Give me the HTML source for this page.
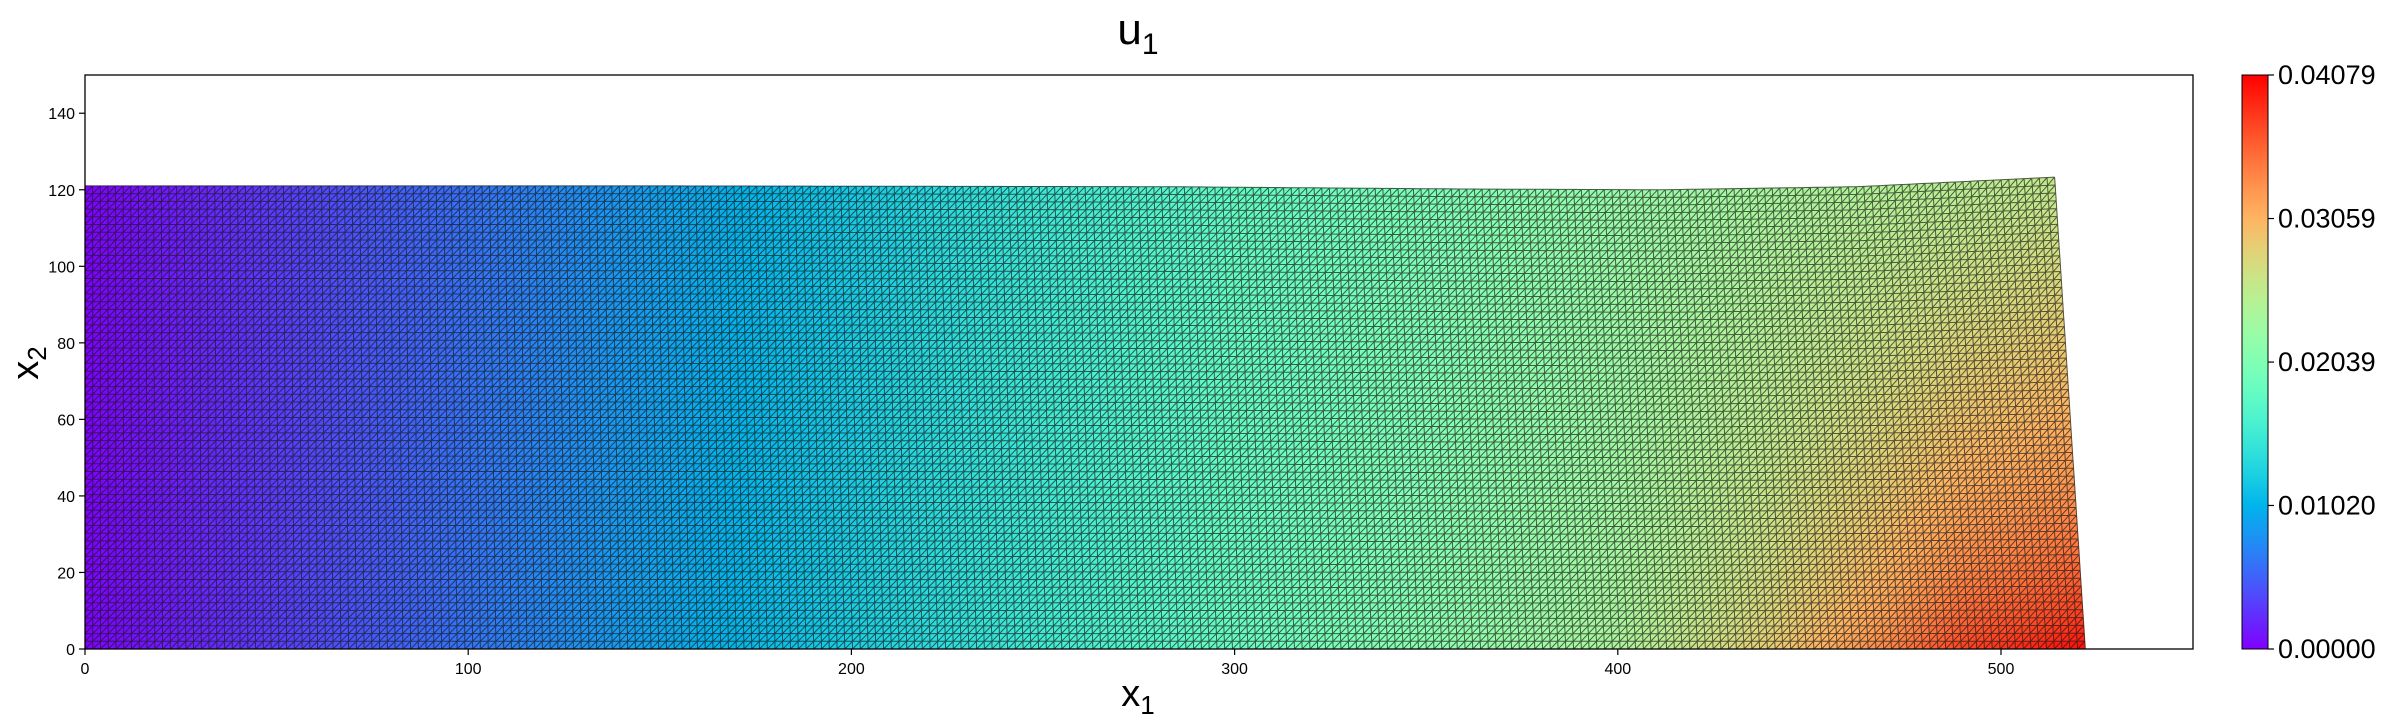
<!DOCTYPE html>
<html><head><meta charset="utf-8"><style>
html,body{margin:0;padding:0;background:#fff;}
svg text{font-family:"Liberation Sans","DejaVu Sans",sans-serif;}
</style></head><body>
<svg id="fig" width="2390" height="722" xmlns="http://www.w3.org/2000/svg">
<defs>
<linearGradient id="cbg" x1="0" y1="1" x2="0" y2="0"></linearGradient>
</defs>
<text x="1138" y="44" font-size="44" text-anchor="middle">u<tspan font-size="30" dy="10">1</tspan></text>
<g id="mesh"></g>
<rect x="85" y="75" width="2108" height="574" fill="none" stroke="#000" stroke-width="1.3"/>
<g id="xticks"></g>
<g id="yticks"></g>
<text x="1138" y="706" font-size="38" text-anchor="middle">x<tspan font-size="26" dy="8">1</tspan></text>
<text transform="translate(38,363) rotate(-90)" font-size="38" text-anchor="middle">x<tspan font-size="26" dy="8">2</tspan></text>
<rect x="2242" y="75" width="26" height="574" fill="url(#cbg)" stroke="#000" stroke-width="1"/>
<g id="cbticks"></g>
</svg>
<script>
const xTicks=[0,100,200,300,400,500];
const yTicks=[0,20,40,60,80,100,120,140];
const cbTicks=["0.00000","0.01020","0.02039","0.03059","0.04079"];
const vMin=0, vMax=0.04079;
const topS=[0,0.3,0.55,0.7,0.8,0.9,1.0];
const topY=[121,121,120.8,120.2,120,120.8,123.3];
const rightX=[522,514];
const valX=[0,100,200,300,400,440,470,490,522];
const valBot=[0,0.0062,0.0122,0.0185,0.0240,0.029,0.034,0.038,0.0408];
const valTop=[0,0.0060,0.0118,0.0180,0.0222,0.0236,0.0245,0.025,0.026];

const NS="http://www.w3.org/2000/svg";
const X0=85,Y0=649,PX=3.832,PY=3.827;
const sx=v=>X0+v*PX, sy=v=>Y0-v*PY;
function interp(xs,ys,x){if(x<=xs[0])return ys[0];for(let i=1;i<xs.length;i++){if(x<=xs[i]){const t=(x-xs[i-1])/(xs[i]-xs[i-1]);return ys[i-1]+t*(ys[i]-ys[i-1]);}}return ys[ys.length-1];}
function cmap(v){let x=Math.max(0,Math.min(1,(v-vMin)/(vMax-vMin)));
 let r=Math.abs(2*x-0.5),g=Math.sin(Math.PI*x),b=Math.cos(Math.PI*x/2);
 const c=z=>Math.round(255*Math.max(0,Math.min(1,z)));return `rgb(${c(r)},${c(g)},${c(b)})`;}
function el(t,a,p){const e=document.createElementNS(NS,t);for(const k in a)e.setAttribute(k,a[k]);p.appendChild(e);return e;}

const mesh=document.getElementById('mesh');
const nx=258, ny=60;
function node(i,j){const s=i/nx,t=j/ny;const L=rightX[0]+(rightX[1]-rightX[0])*t;const T=interp(topS,topY,s);return [s*L,t*T];}
const nodes=[];for(let j=0;j<=ny;j++){nodes.push([]);for(let i=0;i<=nx;i++){const p=node(i,j);nodes[j].push([sx(p[0]),sy(p[1]),p[0],p[1]]);}}
const fills=el('g',{},mesh);


let lines="";
for(let j=0;j<ny;j++)for(let i=0;i<nx;i++){
 const a=nodes[j][i],b=nodes[j][i+1],c=nodes[j+1][i+1],d=nodes[j+1][i];
 const cx=(a[2]+c[2])/2, cy=(a[3]+c[3])/2;const t=Math.pow(Math.min(1,cy/121),0.6);
 const v=interp(valX,valBot,cx)*(1-t)+interp(valX,valTop,cx)*t;
 const p=el('polygon',{points:`${a[0]},${a[1]} ${b[0]},${b[1]} ${c[0]},${c[1]} ${d[0]},${d[1]}`,fill:cmap(v),stroke:cmap(v),'stroke-width':0.6},fills);
 
 
 lines+=`M${a[0].toFixed(1)},${a[1].toFixed(1)}L${c[0].toFixed(1)},${c[1].toFixed(1)}`;
}
for(let j=0;j<=ny;j++){lines+="M"+nodes[j].map(n=>n[0].toFixed(1)+","+n[1].toFixed(1)).join("L");}
for(let i=0;i<=nx;i++){let s="";for(let j=0;j<=ny;j++){s+=(j?"L":"M")+nodes[j][i][0].toFixed(1)+","+nodes[j][i][1].toFixed(1);}lines+=s;}
const lp=el('path',{d:lines,fill:'none',stroke:'#1a1a1a','stroke-opacity':0.7,'stroke-width':1},mesh);



const xg=document.getElementById('xticks');
xTicks.forEach(v=>{const x=sx(v);
 const l=el('line',{x1:x,x2:x,y1:649,y2:655,stroke:'#000','stroke-width':1.2},xg);
 
 
 const t=el('text',{x:x,y:674,'font-size':16,'text-anchor':'middle'},xg);t.textContent=v;
 
 });
const yg=document.getElementById('yticks');
yTicks.forEach(v=>{const y=sy(v);
 const l=el('line',{x1:79,x2:85,y1:y,y2:y,stroke:'#000','stroke-width':1.2},yg);
 
 
 const t=el('text',{x:75,y:y+6,'font-size':16,'text-anchor':'end'},yg);t.textContent=v;
 
 });
const grad=document.getElementById('cbg');
for(let k=0;k<=20;k++){el('stop',{offset:(k/20),'stop-color':cmap(vMin+(vMax-vMin)*k/20)},grad);}
const cg=document.getElementById('cbticks');
cbTicks.forEach(s=>{const v=parseFloat(s);const y=649-(v-vMin)/(vMax-vMin)*574;
 const l=el('line',{x1:2268,x2:2274,y1:y,y2:y,stroke:'#000','stroke-width':1.2},cg);
 
 
 const t=el('text',{x:2278,y:y+9,'font-size':27},cg);t.textContent=s;
 
 });
</script>
</body></html>
